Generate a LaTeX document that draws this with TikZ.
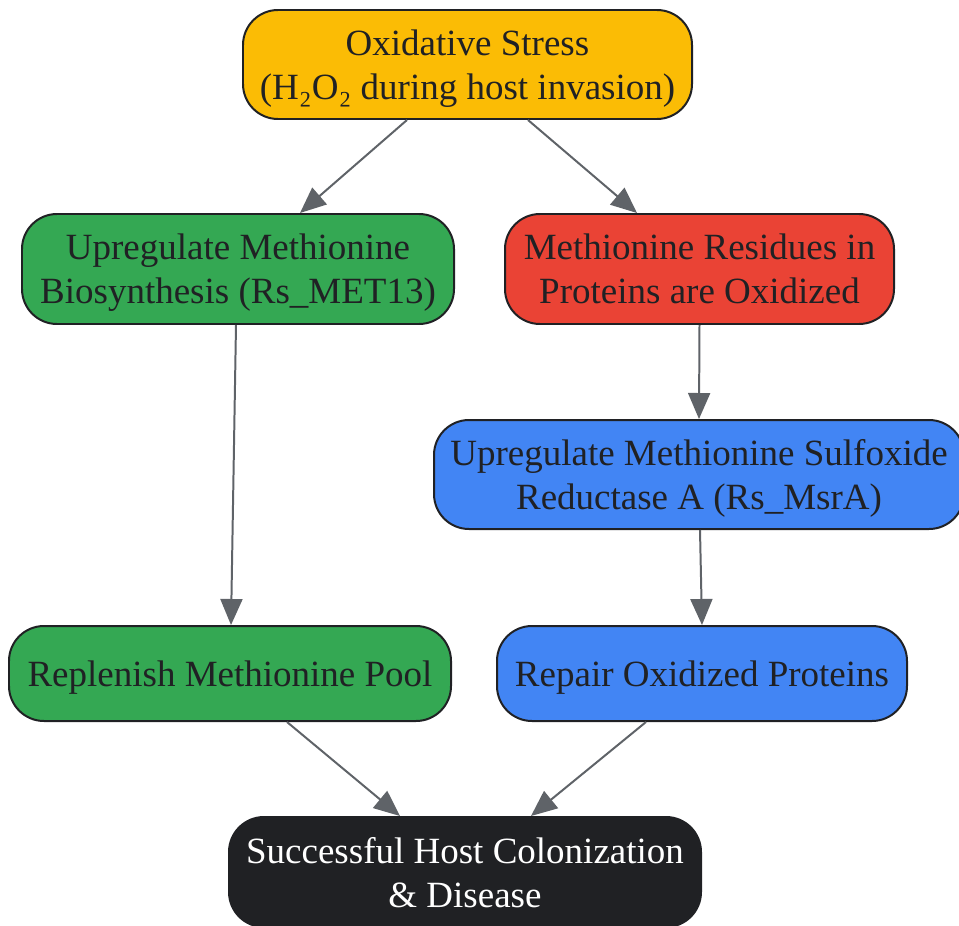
\documentclass[tikz,border=0pt]{standalone}
\usepackage{fontspec}
\setmainfont{Liberation Serif}
\usetikzlibrary{arrows.meta}
\usetikzlibrary{positioning}
\definecolor{stressyellow}{HTML}{FBBC05}
\definecolor{metgreen}{HTML}{34A853}
\definecolor{oxred}{HTML}{EA4335}
\definecolor{msrblue}{HTML}{4285F4}
\definecolor{boxline}{HTML}{202124}
\definecolor{linkgray}{HTML}{5F6368}

\begin{document}
\begin{tikzpicture}[x=1pt,y=-1pt]
  \tikzset{
    box/.style={draw=boxline,line width=0.7mm,rounded corners=35pt,align=center,
      text=boxline,inner sep=0pt,text depth=0pt,font=\fontsize{37}{44}\selectfont},
    link/.style={draw=linkgray,line width=0.7mm,-{Triangle[length=26pt,width=22pt]}}
  }
  \useasboundingbox (0,0) rectangle (959,926);
    %TOP
    \node[box,fill=stressyellow,minimum width=449pt,minimum height=109pt] (stress) at (467.5,64.5) {Oxidative Stress\\(H₂O₂ during host invasion)};
    %LEFT BRANCH
    \node[box,fill=metgreen,minimum width=432pt,minimum height=110pt] (biosyn) at (238,269) {Upregulate Methionine\\Biosynthesis (Rs\_MET13)};
    \node[box,fill=metgreen,minimum width=442pt,minimum height=95pt] (pool) at (230,673.5) {Replenish Methionine Pool};
    %RIGHT BRANCH
    \node[box,fill=oxred,minimum width=389pt,minimum height=110pt] (oxid) at (699.5,269) {Methionine Residues in\\Proteins are Oxidized};
    \node[box,fill=msrblue,minimum width=530pt,minimum height=109pt] (msra) at (699,474.5) {Upregulate Methionine Sulfoxide\\Reductase A (Rs\_MsrA)};
    \node[box,fill=msrblue,minimum width=410pt,minimum height=95pt] (repair) at (702,673.5) {Repair Oxidized Proteins};
    %BOTTOM
    \node[box,fill=boxline,text=white,minimum width=472pt,minimum height=110pt] (success) at (465,872) {Successful Host Colonization\\\& Disease};

    \draw[link] ([xshift=-60.5pt]stress.south) -- ([xshift=62pt]biosyn.north);
    \draw[link] ([xshift=60.5pt]stress.south) -- ([xshift=-62.5pt]oxid.north);
    \draw[link] ([xshift=-2pt]biosyn.south) -- ([xshift=1pt]pool.north);
    \draw[link] (oxid.south) -- (msra.north);
    \draw[link] ([xshift=1pt]msra.south) -- (repair.north);
    \draw[link] ([xshift=57pt]pool.south) -- ([xshift=-65pt]success.north);
    \draw[link] ([xshift=-56pt]repair.south) -- ([xshift=66pt]success.north);
  \end{tikzpicture}
\end{document}
